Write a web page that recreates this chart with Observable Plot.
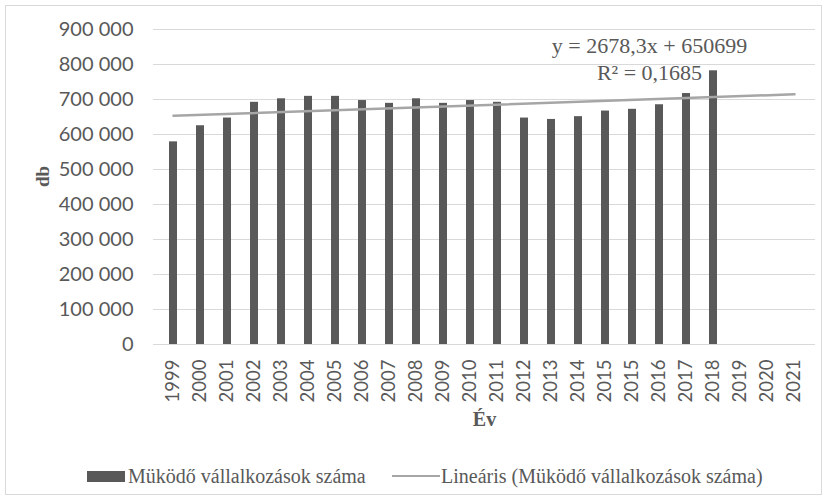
<!DOCTYPE html>
<html>
<head>
<meta charset="utf-8">
<script src="https://cdn.jsdelivr.net/npm/d3@7"></script>
<script src="https://cdn.jsdelivr.net/npm/@observablehq/plot@0.6"></script>
<style>
  html, body { margin: 0; padding: 0; background: #fff; }
  #wrap { position: relative; width: 828px; height: 500px; font-family: "Liberation Serif", "Times New Roman", serif; color: #595959; }
  #frame { position: absolute; left: 5px; top: 5px; width: 815px; height: 488px; border: 1px solid #d9d9d9; pointer-events: none; }
  #chart { position: absolute; left: 0; top: 0; }
  .leg { position: absolute; top: 464px; font-size: 20px; line-height: 24px; white-space: nowrap; }
  .sw-bar { position: absolute; left: 87px; top: 471px; width: 38px; height: 11px; background: #595959; }
  .sw-line { position: absolute; left: 392px; top: 475px; width: 48px; height: 2px; background: #a6a6a6; }
</style>
</head>
<body>
<div id="wrap">
  <div id="chart"></div>
  <div class="sw-bar"></div>
  <div class="leg" id="leg1" style="left:128px"></div>
  <div class="sw-line"></div>
  <div class="leg" id="leg2" style="left:441px"></div>
  <div id="frame"></div>
</div>
<script>
// Category labels (the source repeats "2015")
const yearLabels = ["1999","2000","2001","2002","2003","2004","2005","2006","2007","2008",
  "2009","2010","2011","2012","2013","2014","2015","2015","2016","2017","2018","2019","2020","2021"];
// Működő vállalkozások száma (db)
const values = [579000, 625000, 647000, 692000, 702000, 709000, 709000, 697000, 689000, 702000,
  689000, 697000, 692000, 647000, 643000, 651000, 667000, 672000, 685000, 717000, 782000];
// Linear trend endpoints (first and last category)
const trendIndex = [0, 23];
const trendValues = [653377, 714978];
const yTicks = [0, 100000, 200000, 300000, 400000, 500000, 600000, 700000, 800000, 900000];
const eqLines = ["y = 2678,3x + 650699", "R² = 0,1685"];
const seriesName = "Müködő vállalkozások száma";
const trendName = "Lineáris (Müködő vállalkozások száma)";
const xTitle = "Év";
const yTitle = "db";

const keys = yearLabels.map((d, i) => i);
const bars = values.map((v, i) => ({k: i, v}));
const trend = trendIndex.map((k, i) => ({k, v: trendValues[i]}));
const fmt = d => d3.format(",")(d).replace(/,/g, " ");
const serif = '"Liberation Serif", "Times New Roman", serif';
const sans = 'Lato, "Open Sans", sans-serif';

const chart = Plot.plot({
  width: 828,
  height: 450,
  marginLeft: 153,
  marginRight: 13,
  marginTop: 29,
  marginBottom: 106,
  style: {fontFamily: serif, fontSize: "21px", color: "#595959", background: "transparent"},
  x: {type: "band", domain: keys, paddingInner: 0.7, paddingOuter: 0.35},
  y: {domain: [0, 900000]},
  marks: [
    Plot.gridY(yTicks, {stroke: "#d9d9d9", strokeOpacity: 1, strokeWidth: 1}),
    Plot.barY(bars, {x: "k", y: "v", fill: "#595959"}),
    Plot.line(trend, {x: "k", y: "v", stroke: "#a6a6a6", strokeWidth: 2.5}),
    Plot.axisY(yTicks, {tickSize: 0, tickPadding: 20, tickFormat: fmt, fontSize: 20, fontFamily: sans, label: null}),
    Plot.axisX(keys, {tickSize: 0, tickPadding: 15, tickRotate: -90, tickFormat: i => yearLabels[i], fontSize: 18.5, fontFamily: sans, label: null}),
    Plot.text([xTitle], {text: d => d, frameAnchor: "bottom", dy: 81, fontWeight: "bold", fontSize: 20, fontFamily: serif}),
    Plot.text([yTitle], {text: d => d, frameAnchor: "left", dx: -111, rotate: -90, fontWeight: "bold", fontSize: 19, fontFamily: serif}),
    Plot.text([eqLines.join("\n")], {text: d => d, frameAnchor: "top", dx: 165, dy: 28, lineAnchor: "middle", lineHeight: 1.24, fontSize: 22, fontFamily: serif})
  ]
});
document.getElementById("chart").appendChild(chart);
document.getElementById("leg1").textContent = seriesName;
document.getElementById("leg2").textContent = trendName;
</script>
</body>
</html>
